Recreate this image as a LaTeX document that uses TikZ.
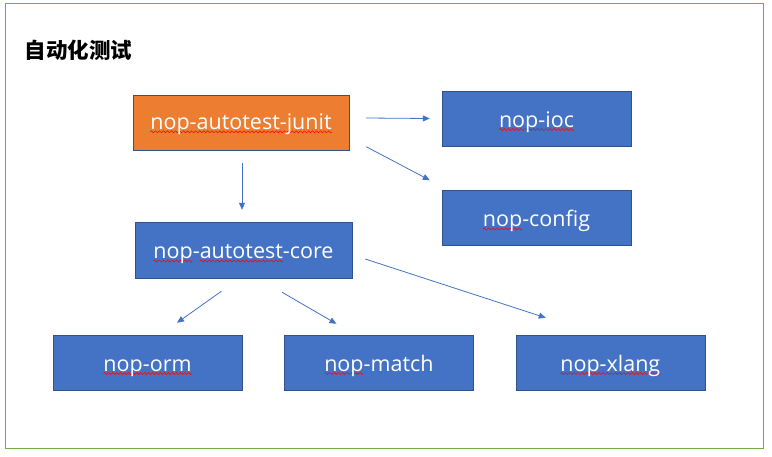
\documentclass[tikz,border=0pt]{standalone}
\usepackage{fontspec}
\setmainfont{Open Sans}
\newfontfamily\cjk{Noto Sans CJK SC}
\usetikzlibrary{positioning,arrows.meta}

\definecolor{boxblue}{HTML}{4472C4}
\definecolor{boxline}{HTML}{2F528F}
\definecolor{boxorange}{HTML}{ED7D31}
\definecolor{frame}{HTML}{70AD47}

% red squiggle under words, as the spell checker shows it
\newsavebox\wavebox
\newsavebox\wordbox
\AtBeginDocument{\sbox\wavebox{\begin{pgfpicture}
  \pgfpathrectanglecorners{\pgfpoint{0pt}{-1pt}}{\pgfpoint{4pt}{1pt}}\pgfusepath{use as bounding box}
  \pgfsetcolor{red}\pgfsetlinewidth{0.5pt}
  \pgfpathmoveto{\pgfpoint{0pt}{0pt}}
  \pgfpathsine{\pgfpoint{1pt}{1pt}}\pgfpathcosine{\pgfpoint{1pt}{-1pt}}
  \pgfpathsine{\pgfpoint{1pt}{-1pt}}\pgfpathcosine{\pgfpoint{1pt}{1pt}}
  \pgfusepath{stroke}\end{pgfpicture}}}
\newcommand\spw[1]{\sbox\wordbox{#1}\rlap{\smash{\lower3.5pt\hbox to\wd\wordbox{\xleaders\copy\wavebox\hfil}}}\usebox\wordbox}

\tikzset{
  box/.style={draw=boxline, fill=boxblue, text=white, inner sep=0pt,
    minimum width=189pt, minimum height=55pt, text height=19pt, text depth=2pt,
    font=\fontsize{21.5}{24}\selectfont},
  arr/.style={draw=boxblue, line width=0.8pt, -{Triangle[length=7pt,width=6pt]}}
}

\begin{document}
\begin{tikzpicture}[x=1pt, y=-1pt, node distance = 44pt]
      \useasboundingbox (0,0) rectangle (772,456);
      \draw [frame, line width=1pt] (5,3) rectangle (763,448);
      \node (title) [anchor=west] at (21,50) {\cjk\bfseries\fontsize{21.5}{24}\selectfont 自动化测试};
      \node (junit) [box, fill=boxorange, minimum width=216pt, text height=14.6pt] at (241,123) {\spw{nop-autotest-junit}};
      \node (ioc) [box] at (536.5,118.5) {\spw{nop-ioc}};
      \node (config) [box, below=of ioc] {\spw{nop}-config};
      \node (core) [box, minimum width=217pt, minimum height=56pt] at (243.5,250) {\spw{nop}-\spw{autotest}-core};
      \node (orm) [box] at (147.5,362.5) {\spw{nop-orm}};
      \node (match) [box, right=42pt of orm] {\spw{nop}-match};
      \node (xlang) [box, right=42pt of match] {\spw{nop-xlang}};
      \draw [arr] ([shift={(17,-5)}]junit.east) to ([shift={(-12,0)}]ioc.west);
      \draw [arr] ([shift={(17,-4)}]junit.south east) to ([shift={(-12,-10)}]config.north west);
      \draw [arr] ([shift={(1,12)}]junit.south) to ([shift={(-1.5,-12)}]core.north);
      \draw [arr] ([shift={(-22,13)}]core.south) to ([shift={(29.5,-12)}]orm.north);
      \draw [arr] ([shift={(38.5,14)}]core.south) to ([shift={(-42.5,-11)}]match.north);
      \draw [arr] ([shift={(13,9)}]core.east) to ([shift={(-64.5,-17)}]xlang.north);
\end{tikzpicture}
\end{document}
